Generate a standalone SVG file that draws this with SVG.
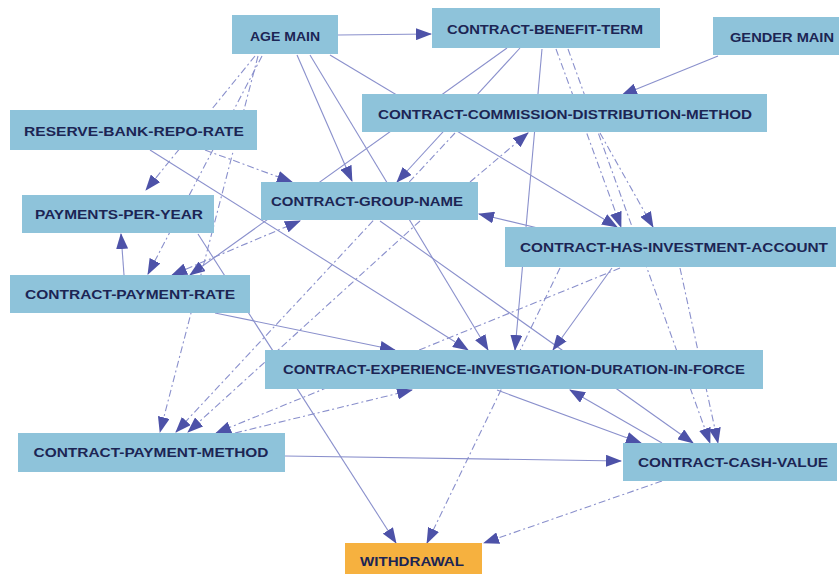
<svg xmlns="http://www.w3.org/2000/svg" width="839" height="574" viewBox="0 0 839 574">
  <style>
    .node rect { fill: #8ec3da; }
    .node.target rect { fill: #f6b13f; }
    .node text { font-family: "Liberation Sans", Arial, sans-serif; font-size: 13px; font-weight: bold; fill: #1c2554; text-anchor: middle; dominant-baseline: central; }
    .edge { fill: none; stroke: #8a90cc; stroke-width: 1.1; marker-end: url(#arrow); }
    .dash { stroke-dasharray: 7 3 2 3; }
  </style>
  <defs>
    <marker id="arrow" markerUnits="userSpaceOnUse" markerWidth="16" markerHeight="12" refX="15" refY="6" orient="auto-start-reverse">
      <path d="M0,0 L16,6 L0,12 z" fill="#4d52a8"/>
    </marker>
  </defs>
  <rect width="839" height="574" fill="#ffffff"/>

  <!-- connectors -->
  <g id="edges">
    <path class="edge" d="M338,35 L431,34"/>
    <path class="edge" d="M718,56 L622,95"/>
    <path class="edge" d="M297,55 L352,181"/>
    <path class="edge dash" d="M205,150 L292,182"/>
    <path class="edge" d="M520,48 L397,182"/>
    <path class="edge" d="M507,48 L190,275"/>
    <path class="edge dash" d="M262,56 L148,274"/>
    <path class="edge dash" d="M255,56 L146,190"/>
    <path class="edge" d="M124,275 L121,234"/>
    <path class="edge dash" d="M172,275 L300,221" style="marker-start:url(#arrow)"/>
    <path class="edge dash" d="M258,56 L160,432"/>
    <path class="edge dash" d="M455,133 L176,432"/>
    <path class="edge dash" d="M420,221 L188,432"/>
    <path class="edge dash" d="M620,268 L216,433"/>
    <path class="edge dash" d="M235,433 L412,390"/>
    <path class="edge" d="M285,456 L621,461"/>
    <path class="edge" d="M198,234 L396,543"/>
    <path class="edge dash" d="M560,268 L427,543"/>
    <path class="edge dash" d="M662,481 L484,543"/>
    <path class="edge" d="M662,443 L570,390"/>
    <path class="edge" d="M497,390 L641,443"/>
    <path class="edge" d="M380,221 L693,443"/>
    <path class="edge dash" d="M680,268 L718,443"/>
    <path class="edge dash" d="M568,49 L710,443"/>
    <path class="edge dash" d="M556,49 L621,227"/>
    <path class="edge dash" d="M600,133 L653,227"/>
    <path class="edge" d="M330,55 L617,227"/>
    <path class="edge" d="M542,229 L479,214"/>
    <path class="edge dash" d="M470,182 L528,133"/>
    <path class="edge" d="M215,313 L395,350"/>
    <path class="edge" d="M150,150 L468,350"/>
    <path class="edge" d="M310,55 L488,350"/>
    <path class="edge" d="M542,49 L515,350"/>
    <path class="edge" d="M612,268 L553,350"/>
  </g>

  <!-- nodes -->
  <g id="age-main" class="node"><rect x="232" y="15" width="106" height="39"/><text x="285" y="36" textLength="70" lengthAdjust="spacingAndGlyphs">AGE MAIN</text></g>
  <g id="contract-benefit-term" class="node"><rect x="432" y="8" width="228" height="40"/><text x="545" y="29" textLength="196" lengthAdjust="spacingAndGlyphs">CONTRACT-BENEFIT-TERM</text></g>
  <g id="gender-main" class="node"><rect x="713" y="17" width="132" height="38"/><text x="782" y="37" textLength="104" lengthAdjust="spacingAndGlyphs">GENDER MAIN</text></g>
  <g id="contract-commission-distribution-method" class="node"><rect x="362" y="94" width="405" height="38"/><text x="565" y="114" textLength="374" lengthAdjust="spacingAndGlyphs">CONTRACT-COMMISSION-DISTRIBUTION-METHOD</text></g>
  <g id="reserve-bank-repo-rate" class="node"><rect x="10" y="110" width="247" height="40"/><text x="134" y="131" textLength="220" lengthAdjust="spacingAndGlyphs">RESERVE-BANK-REPO-RATE</text></g>
  <g id="contract-group-name" class="node"><rect x="261" y="182" width="217" height="38"/><text x="367" y="201" textLength="192" lengthAdjust="spacingAndGlyphs">CONTRACT-GROUP-NAME</text></g>
  <g id="payments-per-year" class="node"><rect x="22" y="195" width="192" height="38"/><text x="119" y="214" textLength="168" lengthAdjust="spacingAndGlyphs">PAYMENTS-PER-YEAR</text></g>
  <g id="contract-has-investment-account" class="node"><rect x="505" y="227" width="331" height="40"/><text x="674" y="247" textLength="308" lengthAdjust="spacingAndGlyphs">CONTRACT-HAS-INVESTMENT-ACCOUNT</text></g>
  <g id="contract-payment-rate" class="node"><rect x="10" y="275" width="240" height="38"/><text x="130" y="294" textLength="210" lengthAdjust="spacingAndGlyphs">CONTRACT-PAYMENT-RATE</text></g>
  <g id="contract-experience-investigation-duration-in-force" class="node"><rect x="265" y="350" width="498" height="39"/><text x="514" y="369" textLength="462" lengthAdjust="spacingAndGlyphs">CONTRACT-EXPERIENCE-INVESTIGATION-DURATION-IN-FORCE</text></g>
  <g id="contract-payment-method" class="node"><rect x="18" y="433" width="267" height="39"/><text x="151" y="452" textLength="235" lengthAdjust="spacingAndGlyphs">CONTRACT-PAYMENT-METHOD</text></g>
  <g id="contract-cash-value" class="node"><rect x="623" y="443" width="214" height="38"/><text x="733" y="462" textLength="190" lengthAdjust="spacingAndGlyphs">CONTRACT-CASH-VALUE</text></g>
  <g id="withdrawal" class="node target"><rect x="345" y="543" width="137" height="34"/><text x="412" y="561" textLength="104" lengthAdjust="spacingAndGlyphs">WITHDRAWAL</text></g>
</svg>
